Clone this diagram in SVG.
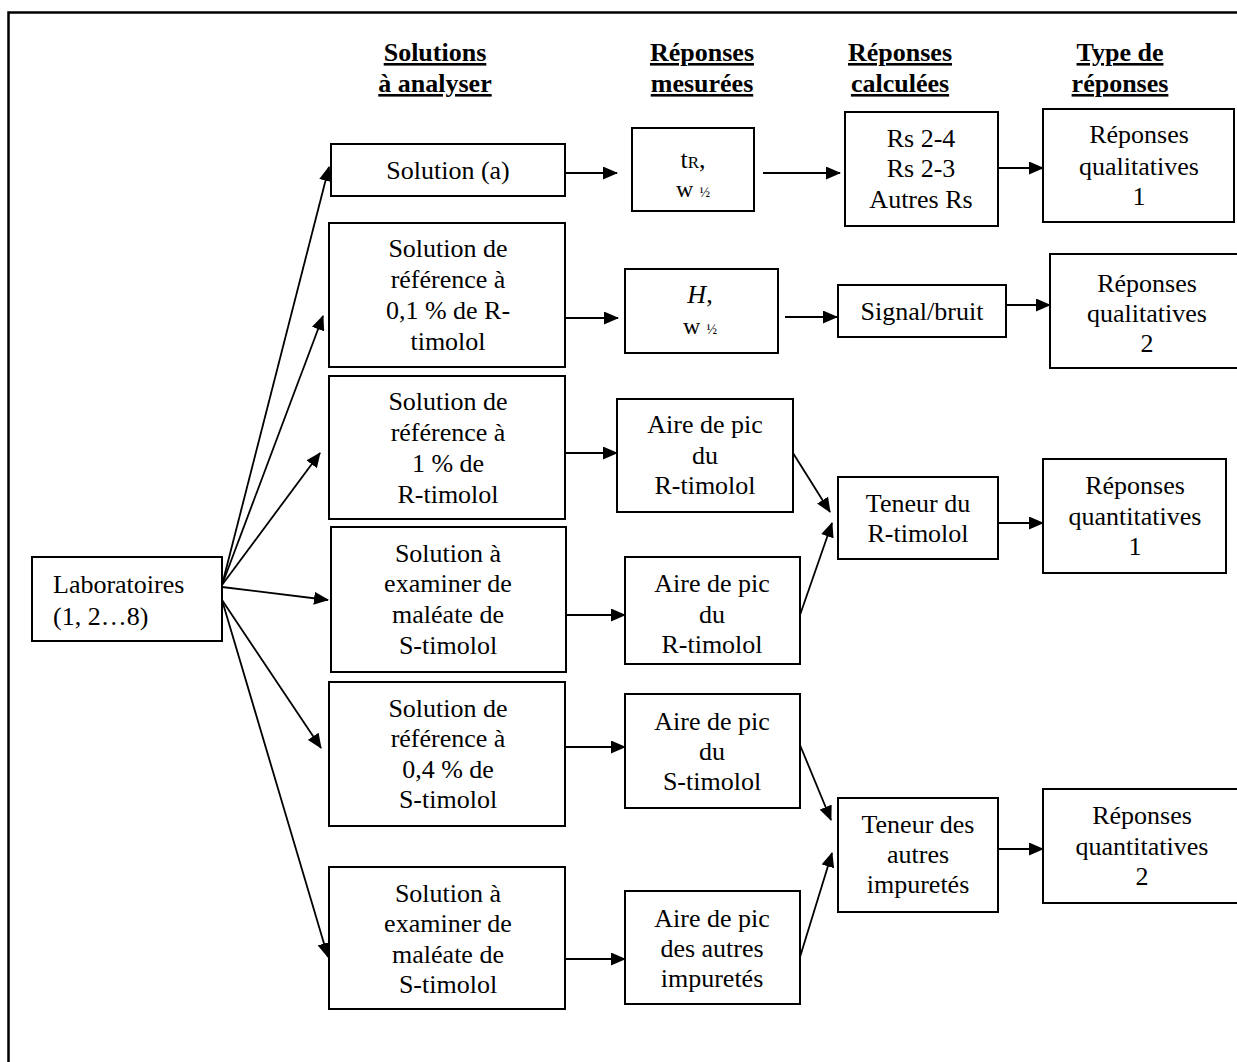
<svg xmlns="http://www.w3.org/2000/svg" width="1237" height="1062" viewBox="0 0 1237 1062">
<style>
  .box{fill:#fff;stroke:#000;stroke-width:2}
  .t{font-family:"Liberation Serif","Times New Roman",serif;font-size:26px;fill:#000;text-anchor:middle}
  .tl{font-family:"Liberation Serif","Times New Roman",serif;font-size:26px;fill:#000}
  .h{font-family:"Liberation Serif","Times New Roman",serif;font-size:26px;font-weight:bold;fill:#000;text-anchor:middle;text-decoration:underline}
  .c{stroke:#000;stroke-width:1.8;fill:none;marker-end:url(#ah)}
  .sub{font-size:17px}
  .w{font-size:24px}
  .half{font-size:14px}
</style>
<defs>
  <marker id="ah" markerUnits="userSpaceOnUse" markerWidth="15" markerHeight="13" refX="14" refY="6.5" orient="auto" viewBox="0 0 15 13">
    <path d="M0,0 L15,6.5 L0,13 z" fill="#000"/>
  </marker>
</defs>
<rect width="1237" height="1062" fill="#fff"/>
<rect x="8.5" y="12.5" width="1260" height="1080" fill="none" stroke="#000" stroke-width="2.5"/>

<g id="headers">
  <text class="h" x="435" y="61">Solutions</text>
  <text class="h" x="435" y="92">à analyser</text>
  <text class="h" x="702" y="61">Réponses</text>
  <text class="h" x="702" y="92">mesurées</text>
  <text class="h" x="900" y="61">Réponses</text>
  <text class="h" x="900" y="92">calculées</text>
  <text class="h" x="1120" y="61">Type de</text>
  <text class="h" x="1120" y="92">réponses</text>
</g>

<g id="connectors">
  <line class="c" x1="222" y1="585" x2="329" y2="167"/>
  <line class="c" x1="222" y1="585" x2="323" y2="316"/>
  <line class="c" x1="222" y1="585" x2="320" y2="453"/>
  <line class="c" x1="222" y1="587" x2="328" y2="600"/>
  <line class="c" x1="222" y1="600" x2="321" y2="748"/>
  <line class="c" x1="222" y1="600" x2="328" y2="957"/>
  <line class="c" x1="565" y1="173" x2="617" y2="173"/>
  <line class="c" x1="763" y1="173" x2="840" y2="173"/>
  <line class="c" x1="998" y1="168" x2="1043" y2="168"/>
  <line class="c" x1="565" y1="318" x2="618" y2="318"/>
  <line class="c" x1="785" y1="317" x2="837" y2="317"/>
  <line class="c" x1="1006" y1="305" x2="1050" y2="305"/>
  <line class="c" x1="565" y1="453" x2="617" y2="453"/>
  <line class="c" x1="566" y1="615" x2="625" y2="615"/>
  <line class="c" x1="565" y1="747" x2="625" y2="747"/>
  <line class="c" x1="565" y1="959" x2="625" y2="959"/>
  <line class="c" x1="998" y1="523" x2="1043" y2="523"/>
  <line class="c" x1="998" y1="849" x2="1043" y2="849"/>
  <line class="c" x1="793" y1="453" x2="830" y2="512"/>
  <line class="c" x1="800" y1="615" x2="832" y2="523"/>
  <line class="c" x1="800" y1="745" x2="831" y2="820"/>
  <line class="c" x1="800" y1="957" x2="832" y2="853"/>
</g>

<g id="lab">
  <rect class="box" x="32" y="557" width="190" height="84"/>
  <text class="tl" x="53" y="593">Laboratoires</text>
  <text class="tl" x="53" y="625">(1, 2…8)</text>
</g>

<g id="sol-a">
  <rect class="box" x="331" y="144" width="234" height="52"/>
  <text class="t" x="448" y="179">Solution (a)</text>
</g>
<g id="sol-ref01">
  <rect class="box" x="329" y="223" width="236" height="144"/>
  <text class="t" x="448" y="257">Solution de</text>
  <text class="t" x="448" y="288">référence à</text>
  <text class="t" x="448" y="319">0,1 % de R-</text>
  <text class="t" x="448" y="350">timolol</text>
</g>
<g id="sol-ref1">
  <rect class="box" x="329" y="376" width="236" height="143"/>
  <text class="t" x="448" y="410">Solution de</text>
  <text class="t" x="448" y="441">référence à</text>
  <text class="t" x="448" y="472">1 % de</text>
  <text class="t" x="448" y="503">R-timolol</text>
</g>
<g id="sol-exam1">
  <rect class="box" x="331" y="527" width="235" height="145"/>
  <text class="t" x="448" y="562">Solution à</text>
  <text class="t" x="448" y="592">examiner de</text>
  <text class="t" x="448" y="623">maléate de</text>
  <text class="t" x="448" y="654">S-timolol</text>
</g>
<g id="sol-ref04">
  <rect class="box" x="329" y="682" width="236" height="144"/>
  <text class="t" x="448" y="717">Solution de</text>
  <text class="t" x="448" y="747">référence à</text>
  <text class="t" x="448" y="778">0,4 % de</text>
  <text class="t" x="448" y="808">S-timolol</text>
</g>
<g id="sol-exam2">
  <rect class="box" x="329" y="867" width="236" height="142"/>
  <text class="t" x="448" y="902">Solution à</text>
  <text class="t" x="448" y="932">examiner de</text>
  <text class="t" x="448" y="963">maléate de</text>
  <text class="t" x="448" y="993">S-timolol</text>
</g>

<g id="m-tr">
  <rect class="box" x="632" y="128" width="122" height="83"/>
  <text class="t" x="693" y="168">t<tspan class="sub">R</tspan>,</text>
  <text class="t w" x="693" y="197">w <tspan class="half">½</tspan></text>
</g>
<g id="m-h">
  <rect class="box" x="625" y="269" width="153" height="84"/>
  <text class="t" x="700" y="303"><tspan font-style="italic">H</tspan>,</text>
  <text class="t w" x="700" y="334">w <tspan class="half">½</tspan></text>
</g>
<g id="m-aire-r1">
  <rect class="box" x="617" y="399" width="176" height="113"/>
  <text class="t" x="705" y="433">Aire de pic</text>
  <text class="t" x="705" y="464">du</text>
  <text class="t" x="705" y="494">R-timolol</text>
</g>
<g id="m-aire-r2">
  <rect class="box" x="625" y="557" width="175" height="107"/>
  <text class="t" x="712" y="592">Aire de pic</text>
  <text class="t" x="712" y="623">du</text>
  <text class="t" x="712" y="653">R-timolol</text>
</g>
<g id="m-aire-s">
  <rect class="box" x="625" y="694" width="175" height="114"/>
  <text class="t" x="712" y="730">Aire de pic</text>
  <text class="t" x="712" y="760">du</text>
  <text class="t" x="712" y="790">S-timolol</text>
</g>
<g id="m-aire-autres">
  <rect class="box" x="625" y="891" width="175" height="113"/>
  <text class="t" x="712" y="927">Aire de pic</text>
  <text class="t" x="712" y="957">des autres</text>
  <text class="t" x="712" y="987">impuretés</text>
</g>

<g id="c-rs">
  <rect class="box" x="845" y="112" width="153" height="114"/>
  <text class="t" x="921" y="147">Rs 2-4</text>
  <text class="t" x="921" y="177">Rs 2-3</text>
  <text class="t" x="921" y="208">Autres Rs</text>
</g>
<g id="c-signal">
  <rect class="box" x="838" y="285" width="168" height="52"/>
  <text class="t" x="922" y="320">Signal/bruit</text>
</g>
<g id="c-teneur-r">
  <rect class="box" x="838" y="477" width="160" height="82"/>
  <text class="t" x="918" y="512">Teneur du</text>
  <text class="t" x="918" y="542">R-timolol</text>
</g>
<g id="c-teneur-autres">
  <rect class="box" x="838" y="798" width="160" height="114"/>
  <text class="t" x="918" y="833">Teneur des</text>
  <text class="t" x="918" y="863">autres</text>
  <text class="t" x="918" y="893">impuretés</text>
</g>

<g id="r-qual1">
  <rect class="box" x="1043" y="109" width="191" height="113"/>
  <text class="t" x="1139" y="143">Réponses</text>
  <text class="t" x="1139" y="175">qualitatives</text>
  <text class="t" x="1139" y="205">1</text>
</g>
<g id="r-qual2">
  <rect class="box" x="1050" y="254" width="195" height="114"/>
  <text class="t" x="1147" y="292">Réponses</text>
  <text class="t" x="1147" y="322">qualitatives</text>
  <text class="t" x="1147" y="352">2</text>
</g>
<g id="r-quant1">
  <rect class="box" x="1043" y="459" width="183" height="114"/>
  <text class="t" x="1135" y="494">Réponses</text>
  <text class="t" x="1135" y="525">quantitatives</text>
  <text class="t" x="1135" y="555">1</text>
</g>
<g id="r-quant2">
  <rect class="box" x="1043" y="789" width="200" height="114"/>
  <text class="t" x="1142" y="824">Réponses</text>
  <text class="t" x="1142" y="855">quantitatives</text>
  <text class="t" x="1142" y="885">2</text>
</g>
</svg>
